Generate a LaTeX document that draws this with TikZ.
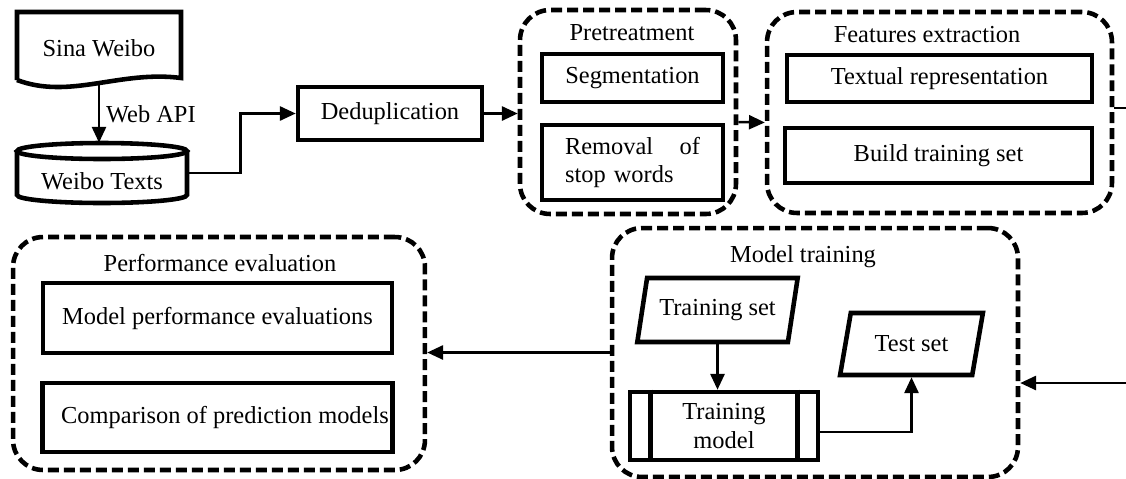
\documentclass[tikz,border=0pt]{standalone}
\usepackage{fontspec}
\setmainfont{Liberation Serif}
\usepackage{tikz}
\usetikzlibrary{calc}
\usetikzlibrary{arrows.meta}
\usetikzlibrary{shapes.geometric}

\tikzset{
  box/.style={draw, line width=2.6pt, inner sep=2pt},
  group/.style={draw, line width=2.6pt, dash pattern=on 0.22cm off 0.1cm, rounded corners=0.6cm},
  dataset/.style={draw, line width=2.6pt, trapezium, trapezium left angle=75, trapezium right angle=105, trapezium stretches=true},
  flow/.style={->, line width=1.4pt},
}

\begin{document}
\begin{tikzpicture}[x=0.02cm,y=-0.02cm,>={Triangle[length=9pt,width=8pt]},font=\fontsize{13.9}{16}\selectfont]
  \useasboundingbox (0,0) rectangle (1126,478);

  % source and storage
  \node (sina) at (99,48) [minimum width=3.28cm, minimum height=1.46cm] {Sina Weibo};
  \draw[line width=2.6pt] (17,80) -- (17,12) -- (181,12) -- (181,78)
        .. controls (120,70) and (70,100) .. (17,80);
  \node (wtexts) at (102,173) [minimum width=3.4cm, minimum height=1.2cm] {};
  \draw[line width=2.6pt] (17,151) -- (17,195) arc (180:360:1.7cm and 0.16cm) -- (187,151);
  \draw[line width=2.6pt] (102,151) ellipse (1.7cm and 0.16cm);
  \node (wlabel) at (102,181) {Weibo Texts};
  \draw[flow] (sina.south) -- node[right] {Web API} (sina.south |- wtexts.north);

  \node (dedup) at (390,113.5) [box, minimum width=3.68cm, minimum height=1.06cm] {Deduplication};
  \draw[flow] (wtexts.east) -- ++(53,0) |- (dedup.west);

  % pretreatment
  \node (pre) at (628,112) [group, minimum width=4.32cm, minimum height=4.08cm] {};
  \node (pretitle) at (632,33) {Pretreatment};
  \node (seg) at (632.5,78) [box, minimum width=3.62cm, minimum height=0.96cm] {Segmentation};
  \node (rem) at (632.5,162.5) [box, minimum width=3.62cm, minimum height=1.5cm, text width=2.7cm, align=left] {Removal\hfill of\\stop words};
  \draw[flow] (dedup.east) -- (dedup.east -| pre.west);

  % features
  \node (feat) at (939.5,112.5) [group, minimum width=6.9cm, minimum height=4.02cm] {};
  \node (feattitle) at (927,35) {Features extraction};
  \node (txtrep) at (939.5,78.5) [box, minimum width=6.1cm, minimum height=0.94cm] {Textual representation};
  \node (build) at (938.5,155.5) [box, minimum width=6.14cm, minimum height=1.1cm] {Build training set};
  \draw[flow] ($(pre.east)+(0,10)$) -- ($(feat.west)+(0,10)$);
  \coordinate (outR) at (1126,108);
  \draw[line width=1.4pt] (feat.east |- outR) -- (outR);

  % model training
  \node (mt) at (815,352.5) [group, minimum width=8.12cm, minimum height=4.98cm] {};
  \node (mttitle) at (803,257) {Model training};
  \node (tset) at (717.5,310) [dataset, minimum width=3.22cm, minimum height=1.28cm] {Training set};
  \node (test) at (911.5,344) [dataset, minimum width=2.86cm, minimum height=1.24cm] {Test set};
  \node (tmodel) at (724,426) [box, minimum width=3.76cm, minimum height=1.36cm, align=center] {Training\\model};
  \draw[line width=2.6pt] ($(tmodel.north west)+(23,0)$) -- ($(tmodel.south west)+(23,0)$);
  \draw[line width=2.6pt] ($(tmodel.north east)+(-23,0)$) -- ($(tmodel.south east)+(-23,0)$);
  \draw[flow] (tset.south) -- (tset.south |- tmodel.north);
  \draw[flow] ($(tmodel.east)+(0,6)$) -| (test.south);
  \coordinate (inR) at (1126,383);
  \draw[flow] (inR) -- (inR -| mt.east);

  % evaluation
  \node (perf) at (219,353.5) [group, minimum width=8.24cm, minimum height=4.66cm] {};
  \node (perftitle) at (220,263) {Performance evaluation};
  \node (mpe) at (217.5,318) [box, minimum width=6.98cm, minimum height=1.4cm] {Model performance evaluations};
  \node (cmp) at (217.5,417.5) [box, minimum width=6.98cm, minimum height=1.38cm] {\hspace{0.3cm}Comparison of prediction models};
  \draw[flow] (mt.west) -- (mt.west -| perf.east);
\end{tikzpicture}
\end{document}
